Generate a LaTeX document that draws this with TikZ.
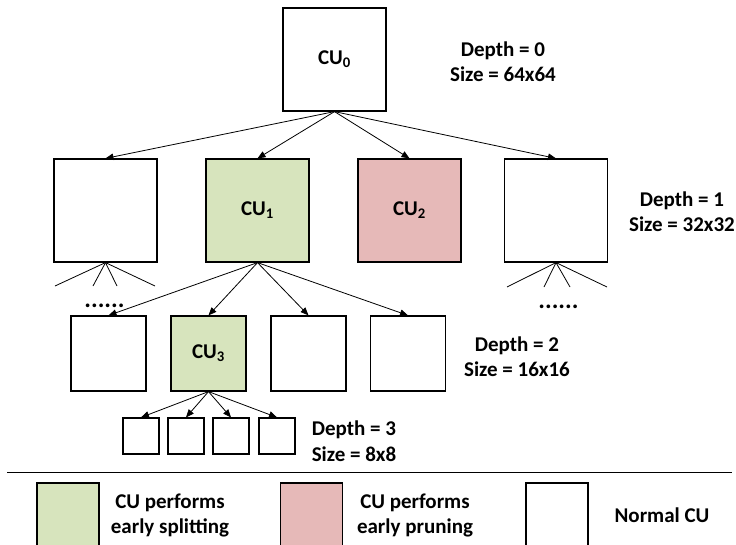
\documentclass[tikz,border=0pt]{standalone}
\usepackage{fontspec}
\setmainfont{Carlito}
\usetikzlibrary{arrows.meta}
\definecolor{splitgreen}{HTML}{D7E4BD}
\definecolor{prunepink}{HTML}{E6B9B8}
\tikzset{
  cubox/.style={draw=black, line width=1.2pt, inner sep=0pt, font=\bfseries\fontsize{21}{24}\selectfont},
  lvl0/.style={cubox, minimum width=103pt, minimum height=103pt},
  lvl1/.style={cubox, minimum width=103pt, minimum height=103pt},
  lvl2/.style={cubox, minimum width=75pt, minimum height=75pt},
  lvl3/.style={cubox, minimum width=36pt, minimum height=36pt},
  legbox/.style={cubox, minimum width=62pt, minimum height=76pt},
  info/.style={align=center, font=\bfseries\fontsize{21}{25.5}\selectfont, inner sep=0pt},
  link/.style={line width=0.8pt, -{Triangle[length=8pt,width=6.5pt]}},
  fan/.style={line width=0.8pt},
  dotrow/.style={font=\bfseries\fontsize{25}{26}\selectfont, inner sep=0pt, anchor=base}
}
\begin{document}
\begin{tikzpicture}[x=1pt, y=-1pt]
  \useasboundingbox (0,0) rectangle (736,544);
  \clip (0,0) rectangle (736,544);

  % depth 0
  \node[lvl0] (c0) at (334.5,59.5) {CU\textsubscript{0}};
  \node[info] (d0) at (503,61.5) {Depth = 0\\Size = 64x64};

  % depth 1
  \node[lvl1] (a1) at (105.5,210.5) {};
  \node[lvl1, fill=splitgreen] (c1) at (257.5,210.5) {CU\textsubscript{1}};
  \node[lvl1, fill=prunepink] (c2) at (409.5,210.5) {CU\textsubscript{2}};
  \node[lvl1] (a4) at (556,210.5) {};
  \node[info] (d1) at (682,211.5) {Depth = 1\\Size = 32x32};

  \foreach \t in {a1,c1,c2,a4} \draw[link] (c0.south) -- (\t.north);

  % unexpanded children of the outer depth-1 units
  \coordinate (f1) at (55,286);
  \coordinate (f2) at (93,286);
  \coordinate (f3) at (117,286);
  \coordinate (f4) at (155,286);
  \foreach \t in {f1,f2,f3,f4} \draw[fan] (a1.south) -- (\t);
  \node[dotrow] (dots1) at (104.5,307) {......};

  \coordinate (g1) at (507,287);
  \coordinate (g2) at (544,287);
  \coordinate (g3) at (570,287);
  \coordinate (g4) at (607,287);
  \foreach \t in {g1,g2,g3,g4} \draw[fan] (a4.south) -- (\t);
  \node[dotrow] (dots2) at (558.5,308) {......};

  % depth 2
  \node[lvl2] (b1) at (108.5,353.5) {};
  \node[lvl2, fill=splitgreen] (c3) at (208.5,353.5) {CU\textsubscript{3}};
  \node[lvl2] (b3) at (308.5,353.5) {};
  \node[lvl2] (b4) at (408,353.5) {};
  \node[info] (d2) at (517,356.5) {Depth = 2\\Size = 16x16};

  \foreach \t in {b1,c3,b3,b4} \draw[link] (c1.south) -- (\t.north);

  % depth 3
  \node[lvl3] (e1) at (141,436) {};
  \node[lvl3] (e2) at (186,436) {};
  \node[lvl3] (e3) at (231,436) {};
  \node[lvl3] (e4) at (277,436) {};
  \node[info] (d3) at (354,441) {Depth = 3\\Size = 8x8};

  \foreach \t in {e1,e2,e3,e4} \draw[link] (c3.south) -- (\t.north);

  % legend
  \coordinate (sepL) at (7,472);
  \coordinate (sepR) at (732,472);
  \draw[line width=1pt] (sepL) -- (sepR);

  \node[legbox, fill=splitgreen] (lg1) at (68,521) {};
  \node[info] (lt1) at (170,515.5) {CU performs\\early splitting};
  \node[legbox, fill=prunepink] (lg2) at (311.5,521) {};
  \node[info] (lt2) at (415,515.5) {CU performs\\early pruning};
  \node[legbox] (lg3) at (557,521) {};
  \node[info] (lt3) at (662,515) {Normal CU};
\end{tikzpicture}
\end{document}
